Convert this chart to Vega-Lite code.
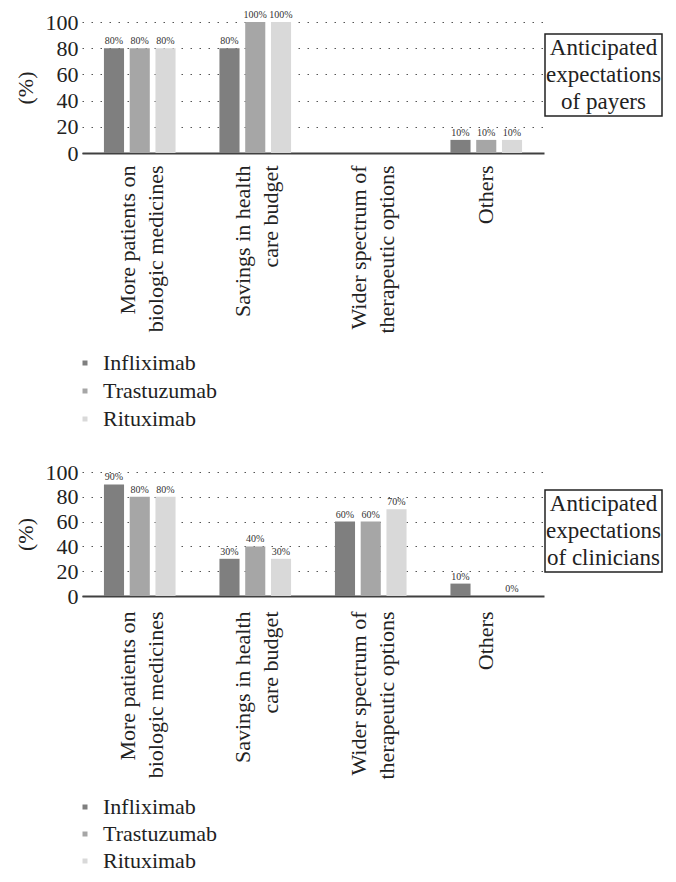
{
  "$schema": "https://vega.github.io/schema/vega-lite/v6.json",
  "padding": {"left": 14, "top": 10, "right": 5, "bottom": 5},
  "background": "white",
  "config": {
    "font": "Liberation Serif",
    "view": {"stroke": null},
    "axis": {"labelFont": "Liberation Serif", "titleFont": "Liberation Serif", "labelColor": "#222", "titleColor": "#222"},
    "legend": {"labelFont": "Liberation Serif"},
    "text": {"font": "Liberation Serif"}
  },
  "datasets": {
    "bars": [
      {"panel": "payers", "category": "More patients on\nbiologic medicines", "drug": "Infliximab", "value": 80},
      {"panel": "payers", "category": "More patients on\nbiologic medicines", "drug": "Trastuzumab", "value": 80},
      {"panel": "payers", "category": "More patients on\nbiologic medicines", "drug": "Rituximab", "value": 80},
      {"panel": "payers", "category": "Savings in health\ncare budget", "drug": "Infliximab", "value": 80},
      {"panel": "payers", "category": "Savings in health\ncare budget", "drug": "Trastuzumab", "value": 100},
      {"panel": "payers", "category": "Savings in health\ncare budget", "drug": "Rituximab", "value": 100},
      {"panel": "payers", "category": "Others", "drug": "Infliximab", "value": 10},
      {"panel": "payers", "category": "Others", "drug": "Trastuzumab", "value": 10},
      {"panel": "payers", "category": "Others", "drug": "Rituximab", "value": 10},
      {"panel": "clinicians", "category": "More patients on\nbiologic medicines", "drug": "Infliximab", "value": 90},
      {"panel": "clinicians", "category": "More patients on\nbiologic medicines", "drug": "Trastuzumab", "value": 80},
      {"panel": "clinicians", "category": "More patients on\nbiologic medicines", "drug": "Rituximab", "value": 80},
      {"panel": "clinicians", "category": "Savings in health\ncare budget", "drug": "Infliximab", "value": 30},
      {"panel": "clinicians", "category": "Savings in health\ncare budget", "drug": "Trastuzumab", "value": 40},
      {"panel": "clinicians", "category": "Savings in health\ncare budget", "drug": "Rituximab", "value": 30},
      {"panel": "clinicians", "category": "Wider spectrum of\ntherapeutic options", "drug": "Infliximab", "value": 60},
      {"panel": "clinicians", "category": "Wider spectrum of\ntherapeutic options", "drug": "Trastuzumab", "value": 60},
      {"panel": "clinicians", "category": "Wider spectrum of\ntherapeutic options", "drug": "Rituximab", "value": 70},
      {"panel": "clinicians", "category": "Others", "drug": "Infliximab", "value": 10},
      {"panel": "clinicians", "category": "Others", "drug": "Rituximab", "value": 0}
    ],
    "boxes": [
      {"panel": "payers", "text": "Anticipated\nexpectations\nof payers"},
      {"panel": "clinicians", "text": "Anticipated\nexpectations\nof clinicians"}
    ]
  },
  "resolve": {"scale": {"color": "independent"}, "legend": {"color": "independent"}},
  "spacing": 31,
  "vconcat": [
    {
      "spacing": 0,
      "resolve": {"scale": {"color": "independent"}, "legend": {"color": "independent"}},
      "hconcat": [
        {
          "width": 462,
          "height": 131,
          "data": {"name": "bars"},
          "transform": [{"filter": "datum.panel === 'payers'"}],
          "encoding": {
            "x": {
              "field": "category", "type": "nominal",
              "scale": {"domain": ["More patients on\nbiologic medicines", "Savings in health\ncare budget", "Wider spectrum of\ntherapeutic options", "Others"], "paddingInner": 0.38, "paddingOuter": 0.19},
              "axis": {"title": null, "ticks": false, "labelAngle": 270, "labelAlign": "right", "labelBaseline": "middle", "labelPadding": 12, "labelFontSize": 22, "labelLineHeight": 28, "labelLimit": 0, "labelOffset": {"condition": {"test": "datum.value === 'Others'", "value": 0}, "value": -12}, "labelExpr": "split(replace(datum.label, 'care budget', 'care budget\u00a0\u00a0\u00a0\u00a0\u00a0\u00a0'), '\\n')", "domainColor": "#404040", "domainWidth": 2}
            },
            "xOffset": {"field": "drug", "type": "nominal", "scale": {"domain": ["Infliximab", "Trastuzumab", "Rituximab"], "paddingInner": 0.22, "paddingOuter": 0}},
            "y": {
              "field": "value", "type": "quantitative",
              "scale": {"domain": [0, 100], "nice": false},
              "axis": {"title": "(%)", "titleFontSize": 22, "titleFontWeight": "normal", "titlePadding": 8, "values": [0, 20, 40, 60, 80, 100], "labelFontSize": 22, "labelPadding": 4, "ticks": false, "domain": false, "grid": true, "gridColor": "#555", "gridDash": [1.5, 7.5], "gridWidth": 1}
            }
          },
          "layer": [
            {
              "mark": {"type": "bar"},
              "encoding": {
                "color": {
                  "field": "drug", "type": "nominal",
                  "scale": {"domain": ["Infliximab", "Trastuzumab", "Rituximab"], "range": ["#7f7f7f", "#a6a6a6", "#d9d9d9"]},
                  "legend": {"title": null, "orient": "none", "legendX": -8, "legendY": 330, "direction": "vertical", "symbolType": "square", "symbolSize": 25, "symbolStrokeWidth": 0, "labelFontSize": 22, "labelColor": "#222", "labelOffset": 7, "rowPadding": 6, "padding": 0}
                }
              }
            },
            {
              "mark": {"type": "text", "baseline": "bottom", "dy": -2, "fontSize": 10, "color": "#333", "text": {"expr": "datum.value + '%'"}},
              "encoding": {}
            }
          ]
        },
        {
          "spacing": 5,
          "vconcat": [
            {
              "width": 117,
              "height": 1,
              "data": {"name": "boxes"},
              "transform": [{"filter": "datum.panel === 'payers'"}],
              "mark": {"type": "text", "text": ""},
              "encoding": {}
            },
            {
              "width": 117,
              "height": 82,
              "view": {"stroke": "#222", "strokeWidth": 1.5},
              "data": {"name": "boxes"},
              "transform": [{"filter": "datum.panel === 'payers'"}],
              "mark": {"type": "text", "fontSize": 23, "lineHeight": 27, "lineBreak": "\n", "align": "center", "baseline": "middle", "dy": -27, "color": "#222"},
              "encoding": {"text": {"field": "text"}}
            }
          ]
        }
      ]
    },
    {
      "spacing": 0,
      "resolve": {"scale": {"color": "independent"}, "legend": {"color": "independent"}},
      "hconcat": [
        {
          "width": 462,
          "height": 124,
          "data": {"name": "bars"},
          "transform": [{"filter": "datum.panel === 'clinicians'"}],
          "encoding": {
            "x": {
              "field": "category", "type": "nominal",
              "scale": {"domain": ["More patients on\nbiologic medicines", "Savings in health\ncare budget", "Wider spectrum of\ntherapeutic options", "Others"], "paddingInner": 0.38, "paddingOuter": 0.19},
              "axis": {"title": null, "ticks": false, "labelAngle": 270, "labelAlign": "right", "labelBaseline": "middle", "labelPadding": 15, "labelFontSize": 22, "labelLineHeight": 28, "labelLimit": 0, "labelOffset": {"condition": {"test": "datum.value === 'Others'", "value": 0}, "value": -12}, "labelExpr": "split(replace(datum.label, 'care budget', 'care budget\u00a0\u00a0\u00a0\u00a0\u00a0\u00a0'), '\\n')", "domainColor": "#404040", "domainWidth": 2}
            },
            "xOffset": {"field": "drug", "type": "nominal", "scale": {"domain": ["Infliximab", "Trastuzumab", "Rituximab"], "paddingInner": 0.22, "paddingOuter": 0}},
            "y": {
              "field": "value", "type": "quantitative",
              "scale": {"domain": [0, 100], "nice": false},
              "axis": {"title": "(%)", "titleFontSize": 22, "titleFontWeight": "normal", "titlePadding": 8, "values": [0, 20, 40, 60, 80, 100], "labelFontSize": 22, "labelPadding": 4, "ticks": false, "domain": false, "grid": true, "gridColor": "#555", "gridDash": [1.5, 7.5], "gridWidth": 1}
            }
          },
          "layer": [
            {
              "mark": {"type": "bar"},
              "encoding": {
                "color": {
                  "field": "drug", "type": "nominal",
                  "scale": {"domain": ["Infliximab", "Trastuzumab", "Rituximab"], "range": ["#7f7f7f", "#a6a6a6", "#d9d9d9"]},
                  "legend": {"title": null, "orient": "none", "legendX": -8, "legendY": 324, "direction": "vertical", "symbolType": "square", "symbolSize": 25, "symbolStrokeWidth": 0, "labelFontSize": 22, "labelColor": "#222", "labelOffset": 7, "rowPadding": 5, "padding": 0}
                }
              }
            },
            {
              "mark": {"type": "text", "baseline": "bottom", "dy": -2, "fontSize": 10, "color": "#333", "text": {"expr": "datum.value + '%'"}},
              "encoding": {}
            }
          ]
        },
        {
          "spacing": 11,
          "vconcat": [
            {
              "width": 117,
              "height": 1,
              "data": {"name": "boxes"},
              "transform": [{"filter": "datum.panel === 'clinicians'"}],
              "mark": {"type": "text", "text": ""},
              "encoding": {}
            },
            {
              "width": 117,
              "height": 82,
              "view": {"stroke": "#222", "strokeWidth": 1.5},
              "data": {"name": "boxes"},
              "transform": [{"filter": "datum.panel === 'clinicians'"}],
              "mark": {"type": "text", "fontSize": 23, "lineHeight": 27, "lineBreak": "\n", "align": "center", "baseline": "middle", "dy": -27, "color": "#222"},
              "encoding": {"text": {"field": "text"}}
            }
          ]
        }
      ]
    }
  ]
}
